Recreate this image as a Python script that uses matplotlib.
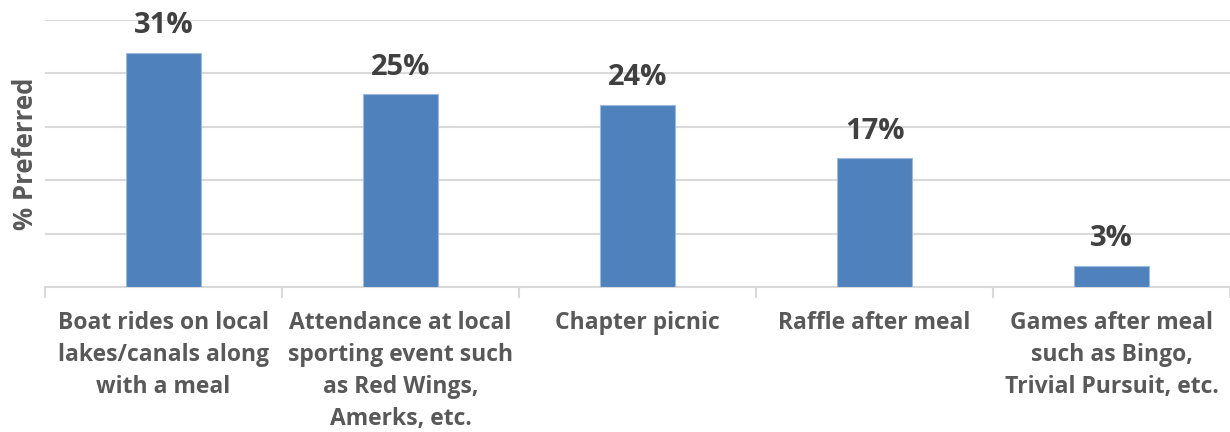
import matplotlib
matplotlib.use("Agg")
import matplotlib.pyplot as plt
from matplotlib.ticker import MultipleLocator, FixedLocator

categories = [
    "Boat rides on local\nlakes/canals along\nwith a meal",
    "Attendance at local\nsporting event such\nas Red Wings,\nAmerks, etc.",
    "Chapter picnic",
    "Raffle after meal",
    "Games after meal\nsuch as Bingo,\nTrivial Pursuit, etc.",
]
values = [0.307, 0.253, 0.239, 0.169, 0.028]
labels = ["31%", "25%", "24%", "17%", "3%"]

plt.rcParams['font.family'] = ['Open Sans', 'DejaVu Sans']

fig = plt.figure(figsize=(12.3, 4.32), dpi=100)
ax = fig.add_axes([45/1230, 145/432, 1185/1230, 267/432])

x = list(range(len(categories)))
bars = ax.bar(x, values, width=0.32, color="#4F81BD", edgecolor="#9DB9DE", linewidth=0.8, zorder=3)

for xi, v, lab in zip(x, values, labels):
    ax.annotate(lab, (xi, v), xytext=(0, 14), textcoords="offset points",
                ha="center", va="baseline", fontsize=21, fontweight="bold", color="#404040")

ax.set_xlim(-0.5, len(categories) - 0.5)
ax.set_ylim(0, 0.35)
ax.yaxis.set_major_locator(MultipleLocator(0.07))
ax.grid(axis="y", color="#D9D9D9", linewidth=1.5, zorder=0)
ax.set_yticklabels([])
ax.tick_params(axis="y", length=0)

ax.set_xticks(x)
ax.set_xticklabels(categories, fontsize=16.5, fontweight="bold", color="#595959", linespacing=1.46)
ax.tick_params(axis="x", which="major", length=0, pad=17)
ax.xaxis.set_minor_locator(FixedLocator([i - 0.5 for i in range(len(categories) + 1)]))
ax.tick_params(axis="x", which="minor", length=8, width=1.5, color="#D9D9D9")

for s in ["top", "right", "left"]:
    ax.spines[s].set_visible(False)
ax.spines["bottom"].set_color("#D9D9D9")
ax.spines["bottom"].set_linewidth(1.5)

ax.set_ylabel("% Preferred", fontsize=18.5, fontweight="bold", color="#595959", labelpad=1)

fig.savefig("out.png", dpi=100)
